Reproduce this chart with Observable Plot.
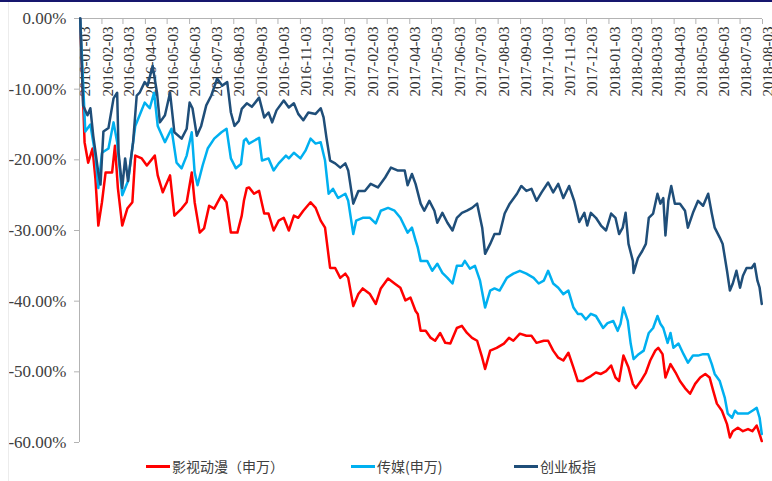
<!DOCTYPE html>
<html>
<head>
<meta charset="utf-8">
<script src="https://cdn.jsdelivr.net/npm/d3@7"></script>
<script src="https://cdn.jsdelivr.net/npm/@observablehq/plot@0.6"></script>
<style>
  body { margin: 0; background: #fff; }
  #wrap { position: relative; width: 772px; height: 481px; overflow: hidden; background: #fff; }
  #chart svg text { font-family: "Liberation Serif", "Times New Roman", serif; }
  #topbar { position: absolute; left: 0; top: 0; width: 772px; height: 2px; background: #16166e; }
  #leftline { position: absolute; left: 8px; top: 2px; width: 1px; height: 479px; background: #ececec; }
  #legend { position: absolute; left: 0; top: 456px; width: 772px; height: 20px;
            font-family: "Noto Sans CJK SC", sans-serif; font-size: 14px; color: #404040; }
  .item { position: absolute; top: 0; height: 20px; display: flex; align-items: center; white-space: nowrap; }
  .sw { display: inline-block; width: 24px; height: 3px; margin-right: 2px; }
</style>
</head>
<body>
<div id="wrap">
  <div id="chart"></div>
  <div id="leftline"></div>
  <div id="topbar"></div>
  <div id="legend"></div>
</div>
<script>
// ---- data ----
const seriesNames = ["影视动漫（申万）", "传媒(申万)", "创业板指"];
const seriesColors = ["#ff0000", "#00b0f0", "#1f4e79"];
const baseDate = "2016-01-03";
const xTickLabels = ["2016-01-03","2016-02-03","2016-03-03","2016-04-03","2016-05-03","2016-06-03","2016-07-03","2016-08-03",
  "2016-09-03","2016-10-03","2016-11-03","2016-12-03","2017-01-03","2017-02-03","2017-03-03","2017-04-03","2017-05-03",
  "2017-06-03","2017-07-03","2017-08-03","2017-09-03","2017-10-03","2017-11-03","2017-12-03","2018-01-03","2018-02-03",
  "2018-03-03","2018-04-03","2018-05-03","2018-06-03","2018-07-03","2018-08-03"];
const yTicks = [0, -10, -20, -30, -40, -50, -60];
const yTickLabels = ["0.00%","-10.00%","-20.00%","-30.00%","-40.00%","-50.00%","-60.00%"];

// [days since 2016-01-03, cumulative return %]
const film = [[1,0],[7,-17.5],[12,-20.4],[18,-18.4],[22,-22.7],[26,-29.3],[31,-26],[36,-21.8],[45,-21.8],[49,-18],[53,-24],[59,-29.3],
  [66,-26.9],[73,-26],[77,-19.4],[86,-19.8],[93,-20.8],[104,-19.4],[108,-22.2],[115,-24.6],[125,-22.2],[131,-27.9],[141,-26.9],
  [148,-26],[155,-21.8],[159,-26],[166,-30.3],[172,-29.7],[179,-26.5],[186,-26.9],[196,-25],[203,-26],[209,-30.3],[218,-30.3],
  [224,-27.9],[227,-25.8],[231,-24],[234,-23.9],[241,-24.8],[248,-24.4],[255,-27.6],[261,-27.6],[268,-30],[275,-28.6],[282,-28.2],
  [289,-30],[296,-27.9],[302,-28.2],[309,-27.2],[319,-26],[326,-26.8],[333,-28.6],[339,-29.6],[346,-35.3],[353,-35.3],[360,-36.7],
  [367,-36.1],[371,-36.7],[378,-40.7],[385,-39],[391,-38.2],[401,-39],[409,-40.4],[416,-38.2],[426,-36.8],[435,-37.5],[443,-38.1],
  [450,-39.9],[457,-39.5],[464,-41.4],[467,-41.8],[471,-44.2],[478,-44.2],[485,-45.2],[491,-45.6],[498,-44.5],[505,-45.9],[512,-46],
  [521,-43.8],[528,-43.5],[535,-44.5],[542,-45.2],[549,-45.6],[556,-48],[560,-49.6],[567,-47],[576,-46.6],[586,-46],[593,-45.2],
  [599,-45.6],[608,-44.6],[617,-44.9],[624,-44.9],[631,-45.9],[641,-45.6],[647,-45.6],[654,-47],[661,-48],[668,-48.4],[675,-47.3],
  [682,-49.4],[688,-51.3],[695,-51.3],[699,-51],[706,-50.6],[713,-50.1],[720,-50.3],[727,-49.9],[734,-49.1],[740,-50.8],[745,-51.3],
  [751,-47.7],[758,-49.4],[764,-51.7],[768,-52.3],[775,-51.3],[782,-50.1],[788,-48.4],[795,-47],[799,-46.6],[805,-47.5],[809,-50.8],
  [816,-48.9],[823,-50.1],[829,-51.3],[836,-52.3],[843,-53.1],[850,-51.7],[857,-50.8],[864,-50.3],[870,-50.8],[875,-52.7],[880,-54.5],
  [887,-55.5],[894,-57.4],[898,-59.3],[902,-58.4],[909,-57.9],[916,-58.4],[923,-58.1],[929,-58.4],[935,-57.6],[939,-58.8],[942,-59.8]];

const media = [[1,0],[8,-16],[15,-15],[22,-19.4],[26,-24],[31,-19],[40,-18.4],[47,-14.7],[52,-17.5],[59,-25],[67,-23],[77,-15.2],
  [83,-13.7],[90,-11.9],[97,-12.7],[103,-10.5],[108,-15.2],[118,-17.5],[127,-15.6],[134,-20.4],[141,-21.2],[148,-19.4],[155,-16.1],
  [159,-21.8],[163,-23.6],[170,-20.8],[177,-18.4],[186,-17],[196,-16.1],[203,-15.6],[209,-19.8],[216,-21.2],[223,-20.6],[227,-17.3],
  [230,-17],[234,-17.7],[241,-17.3],[248,-16.9],[252,-20.1],[261,-19.8],[268,-21.5],[275,-20.5],[285,-19.4],[289,-19.8],[296,-19],
  [305,-19.8],[312,-18.7],[319,-17],[326,-17.7],[333,-17.5],[339,-20.1],[344,-24.8],[350,-24.1],[357,-25.4],[367,-24.8],[371,-25.8],
  [378,-30.5],[382,-28.6],[391,-28.2],[401,-28.2],[409,-29],[416,-27.2],[426,-26.8],[435,-27.2],[443,-28.2],[453,-30.3],[459,-29.6],
  [464,-31.4],[467,-32.4],[471,-34.3],[480,-34.3],[487,-35.7],[494,-34.7],[501,-36],[508,-36.7],[515,-37.5],[521,-35],[528,-35],
  [532,-34.3],[539,-35.4],[546,-35],[553,-37.1],[560,-40.9],[567,-38.5],[573,-38.2],[580,-38.5],[590,-36.7],[599,-36.1],[608,-35.7],
  [617,-36.1],[627,-36.7],[634,-37.5],[641,-37.1],[647,-35.7],[654,-37.5],[661,-38.1],[668,-39],[675,-38.5],[682,-40.9],[688,-41.8],
  [693,-41.8],[699,-42.6],[706,-41.8],[713,-42.1],[723,-43.8],[729,-43.1],[737,-42.8],[743,-44.2],[747,-43.2],[751,-40.9],[757,-42.8],
  [761,-46],[765,-48.2],[772,-47.5],[779,-47],[786,-44.5],[792,-43.8],[798,-42.1],[802,-43.2],[806,-43.8],[812,-45.9],[816,-44.5],
  [820,-46.6],[827,-46],[834,-47.5],[840,-48.7],[847,-47.7],[854,-47.7],[861,-47.5],[868,-47.5],[873,-48.9],[877,-50.3],[884,-51.3],
  [891,-53.7],[895,-55.9],[901,-56.5],[905,-55.5],[909,-55.9],[916,-55.9],[923,-55.9],[929,-55.5],[935,-55.1],[939,-56.5],[942,-58.8]];

const chinext = [[1,0],[5,-12.3],[11,-13.7],[15,-12.7],[19,-16.6],[26,-21.8],[29,-23.5],[33,-16],[40,-15.5],[47,-11.3],[52,-10.5],
  [54,-19],[59,-24],[63,-19.8],[67,-23],[74,-17.5],[79,-10.9],[83,-10.5],[90,-9],[94,-9.5],[101,-6.7],[107,-10.5],[111,-14.7],
  [118,-13.7],[125,-10.5],[131,-16.1],[141,-17],[148,-15.6],[152,-11.9],[156,-12.7],[162,-16.6],[168,-15.2],[175,-12.3],[182,-10.9],
  [190,-8.5],[197,-9.5],[204,-9],[209,-13.3],[214,-15.2],[220,-14.5],[224,-12.8],[231,-12],[238,-12.5],[248,-11.2],[255,-14],
  [261,-13.3],[266,-14.7],[272,-13],[282,-11.6],[289,-12.6],[296,-12],[302,-13.5],[309,-14.4],[316,-13.3],[326,-13.5],[333,-12.7],
  [337,-14],[341,-16.9],[346,-20.1],[353,-20.5],[360,-21.1],[367,-20.5],[371,-21.5],[378,-26.2],[385,-24.4],[394,-24.4],[402,-23.4],
  [412,-23.9],[422,-22.5],[430,-21.1],[439,-21.5],[449,-21.5],[453,-23.6],[459,-22],[464,-23.4],[471,-26.2],[476,-27.2],[483,-25.8],
  [490,-27.2],[494,-28.9],[501,-27.5],[508,-28.9],[515,-30],[521,-28.2],[528,-27.5],[535,-27.2],[542,-26.8],[549,-26.2],[556,-29.6],
  [560,-33.3],[567,-31.9],[573,-30.5],[580,-30.5],[587,-27.6],[594,-26.2],[604,-24.8],[610,-23.7],[617,-24.4],[624,-24.1],[631,-25.8],
  [638,-24.6],[647,-23.2],[654,-24.6],[661,-23.4],[668,-25.4],[676,-23.7],[683,-25.8],[690,-28.8],[697,-27.5],[701,-29.3],[706,-27.5],
  [713,-28.2],[720,-29.3],[727,-30],[734,-27.6],[740,-28.2],[745,-30.5],[750,-29.6],[754,-27.5],[758,-31.9],[764,-34.3],[765,-36],
  [771,-33.9],[777,-32.9],[782,-31.9],[786,-28.2],[792,-27.6],[798,-24.8],[802,-26.2],[806,-25.4],[809,-30.7],[813,-25.8],[817,-23.7],
  [822,-26.2],[829,-26.2],[836,-27.2],[840,-29.6],[847,-27.5],[854,-25.8],[861,-26.5],[868,-24.8],[873,-27.6],[877,-29.6],[884,-31],
  [888,-31.9],[894,-35.7],[898,-38.5],[902,-37.5],[907,-35.7],[912,-38.1],[916,-36.4],[921,-35.3],[928,-35.3],[932,-34.7],[936,-37.1],
  [939,-38.1],[942,-40.4]];

// ---- build ----
const parse = d3.utcParse("%Y-%m-%d");
const base = parse(baseDate);
const seriesData = [film, media, chinext];
const rows = seriesData.flatMap((s, k) => s.map(([d, v]) => ({date: d3.utcDay.offset(base, d), value: v, series: seriesNames[k]})));
const xDomain = [parse(xTickLabels[0]), parse(xTickLabels[xTickLabels.length - 1])];

const serif = '"Liberation Serif", "Times New Roman", serif';
const chart = Plot.plot({
  width: 772, height: 453,
  marginTop: 18, marginBottom: 11, marginLeft: 79, marginRight: 10,
  style: {background: "white", fontFamily: serif},
  x: {type: "utc", domain: xDomain},
  y: {domain: [-60, 0]},
  color: {domain: seriesNames, range: seriesColors},
  marks: [
    Plot.ruleY([0], {stroke: "#b3b3b3", strokeWidth: 1}),
    Plot.ruleX([xDomain[0]], {stroke: "#b3b3b3", strokeWidth: 1}),
    Plot.axisY({ticks: yTicks, tickFormat: d => yTickLabels[yTicks.indexOf(d)], tickSize: 5, tickPadding: 8,
      stroke: "#b3b3b3", fill: "#404040", fontSize: 17, fontFamily: serif, label: null}),
    Plot.axisX({anchor: "top", ticks: xTickLabels.map(parse), tickSize: -5, tickFormat: () => "", stroke: "#b3b3b3", label: null}),
    Plot.text(xTickLabels, {x: d => parse(d), frameAnchor: "top", rotate: -90, textAnchor: "end", dy: 8,
      text: d => d, fontSize: 15, fontFamily: serif, fill: "#333"}),
    Plot.line(rows, {x: "date", y: "value", z: "series", stroke: "series", strokeWidth: 2.5, strokeLinejoin: "round"})
  ]
});
document.getElementById("chart").appendChild(chart);

// legend
const legendPos = [146, 351, 514];
const legend = document.getElementById("legend");
seriesNames.forEach((n, i) => {
  const it = document.createElement("div");
  it.className = "item";
  it.style.left = legendPos[i] + "px";
  it.innerHTML = `<span class="sw" style="background:${seriesColors[i]}"></span><span>${n}</span>`;
  legend.appendChild(it);
});
</script>
</body>
</html>
